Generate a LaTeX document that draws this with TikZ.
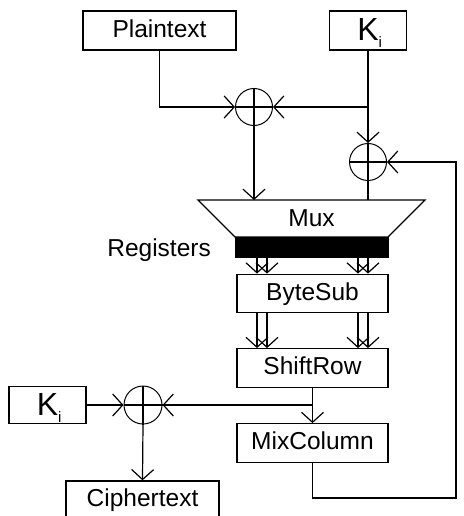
\documentclass[tikz,border=0pt]{standalone}
\usepackage{fontspec}
\setmainfont{Liberation Sans}
\usetikzlibrary{arrows.meta}
\begin{document}
\begin{tikzpicture}[x=1pt,y=-1pt,
  lbl/.style={font=\fontsize{24.5}{28}\selectfont},
  box/.style={draw, line width=1.3pt, inner sep=0pt, text height=17.5pt, text depth=4pt, lbl},
  kbox/.style={draw, line width=1.3pt, inner sep=0pt, minimum width=77pt, minimum height=38pt,
     font=\fontsize{32}{32}\selectfont, text height=21pt, text depth=0pt},
  stage/.style={box, minimum width=151pt, minimum height=38.5pt},
  xor/.style={draw, circle, line width=1pt, minimum size=37pt, inner sep=0pt},
  wire/.style={line width=1.2pt},
  arr/.style={wire, -{Straight Barb[length=10pt,width=22pt,line width=1.2pt]}},
]
\useasboundingbox (0,0) rectangle (463,516);

% boxes
\node[box, minimum width=153pt, minimum height=39pt] (plain) at (159.5,30.5) {Plaintext};
\node[kbox, minimum height=39pt] (ktop) at (368,30.5) {K\rlap{\raisebox{-7pt}{\fontsize{15}{15}\selectfont i}}};
\node[xor] (x1) at (254,107) {};
\node[xor] (x2) at (368,162) {};

% mux trapezoid
\coordinate (mtl) at (198,200);
\coordinate (mtr) at (425,200);
\coordinate (mbr) at (388,237);
\coordinate (mbl) at (235,237);
\coordinate (muxtop) at (311,200);
\draw[line width=1.3pt] (mtl) -- (mtr) -- (mbr) -- (mbl) -- cycle;
\node[lbl, anchor=base, inner sep=0pt] (mux) at (311.5,226) {Mux};

% registers
\node[fill=black, draw=black, minimum width=153pt, minimum height=20pt, inner sep=0pt] (reg) at (311.5,247) {};
\node[lbl, anchor=base east, inner sep=0pt] (reglbl) at (211,256) {Registers};

\node[stage] (bs) at (312.5,293.5) {ByteSub};
\node[stage] (sr) at (312.5,368) {ShiftRow};
\node[stage] (mc) at (312.5,443) {MixColumn};

\node[kbox, minimum height=37pt] (kbot) at (47.5,405) {K\rlap{\raisebox{-7pt}{\fontsize{15}{15}\selectfont i}}};
\node[xor, minimum size=38pt] (x3) at (143,405) {};
\node[box, minimum width=153pt, minimum height=38pt] (ct) at (142.5,500) {Ciphertext};

% xor crosses
\foreach \n in {x1,x2,x3}{
  \draw[wire] (\n.north) -- (\n.south) (\n.west) -- (\n.east);
}

% top connections
\coordinate (j1) at (ktop.south |- x1.east);
\draw[arr] (plain.south) |- (x1.west);
\draw[wire] (ktop.south) -- (j1);
\draw[arr] (j1) -- (x1.east);
\draw[arr] (j1) -- (x2.north);
\draw[arr] (x1.south) -- (x1.south |- muxtop);
\draw[wire] (x2.south) -- (x2.south |- muxtop);

% parallel buses
\foreach \xx in {257,267,358,368}{
  \coordinate (c) at (\xx,0);
  \draw[arr] (reg.south -| c) -- (bs.north -| c);
  \draw[arr] (bs.south -| c) -- (sr.north -| c);
}

% shiftrow -> mixcolumn and output xor
\coordinate (j2) at (sr.south |- x3.east);
\draw[arr] (sr.south) -- (mc.north);
\draw[arr] (j2) -- (x3.east);
\draw[arr] (kbot.east) -- (x3.west);
\draw[arr] (x3.south) -- (ct.north);

% feedback
\coordinate (fb) at (456,498);
\draw[arr] (mc.south) |- (fb) |- (x2.east);
\end{tikzpicture}
\end{document}
